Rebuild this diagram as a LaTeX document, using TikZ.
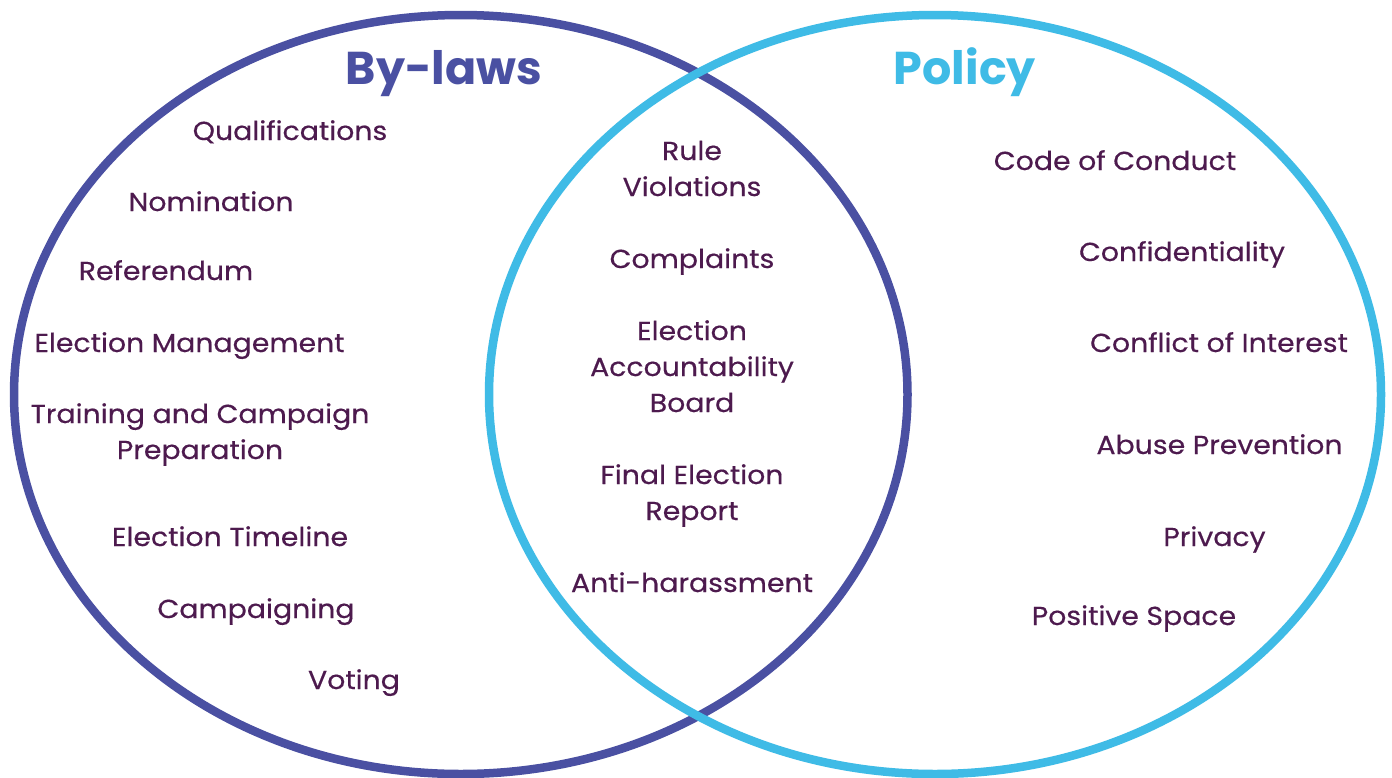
\documentclass[tikz,border=0pt]{standalone}
\usepackage{fontspec}
\setmainfont{Poppins}
\newfontfamily\itemfont{Poppins}[FakeStretch=1.09, FakeBold=0.4]
\newfontfamily\titlefont{Poppins}
\definecolor{bylaw}{HTML}{4A50A2}
\definecolor{policy}{HTML}{3FBBE6}
\definecolor{txt}{HTML}{4D1A4E}
\tikzset{
  item/.style={anchor=base, inner sep=0pt, text=txt, font=\itemfont\fontsize{26}{30}\selectfont},
  title/.style={anchor=base, inner sep=0pt, font=\titlefont\fontsize{46}{56}\selectfont\bfseries},
  ring/.style={line width=8.5pt}
}
\begin{document}
\begin{tikzpicture}[x=1pt,y=-1pt]
\useasboundingbox (0,0) rectangle (1392,777);
\fill[white] (0,0) rectangle (1392,777);
\draw[ring, bylaw] (460.75,394.5) ellipse [x radius=446.75, y radius=379.5];
\draw[ring, policy] (935,394.5) ellipse [x radius=446, y radius=379.5];
\node[title, text=bylaw] (t1) at (444,84) {By-laws};
\node[title, text=policy] (t2) at (965,84) {Policy};
% left
\node[item] (l1) at (290,140) {Qualifications};
\node[item] (l2) at (211,211) {Nomination};
\node[item] (l3) at (166,280) {Referendum};
\node[item] (l4) at (189.5,352) {Election Management};
\node[item] (l5a) at (200,423) {Training and Campaign};
\node[item] (l5b) at (200,459) {Preparation};
\node[item] (l6) at (230,546) {Election Timeline};
\node[item] (l7) at (256,618) {Campaigning};
\node[item] (l8) at (354,689) {Voting};
% middle
\node[item] (m1a) at (692,160) {Rule};
\node[item] (m1b) at (692,196) {Violations};
\node[item] (m2) at (692,268) {Complaints};
\node[item] (m3a) at (692,340) {Election};
\node[item] (m3b) at (692,376) {Accountability};
\node[item] (m3c) at (692,412) {Board};
\node[item] (m4a) at (692,484) {Final Election};
\node[item] (m4b) at (692,520) {Report};
\node[item] (m5) at (692,592) {Anti-harassment};
% right
\node[item] (r1) at (1115,170) {Code of Conduct};
\node[item] (r2) at (1182,261) {Confidentiality};
\node[item] (r3) at (1219,352) {Conflict of Interest};
\node[item] (r4) at (1219.5,454) {Abuse Prevention};
\node[item] (r5) at (1214.5,546) {Privacy};
\node[item] (r6) at (1134,625) {Positive Space};
\end{tikzpicture}
\end{document}
